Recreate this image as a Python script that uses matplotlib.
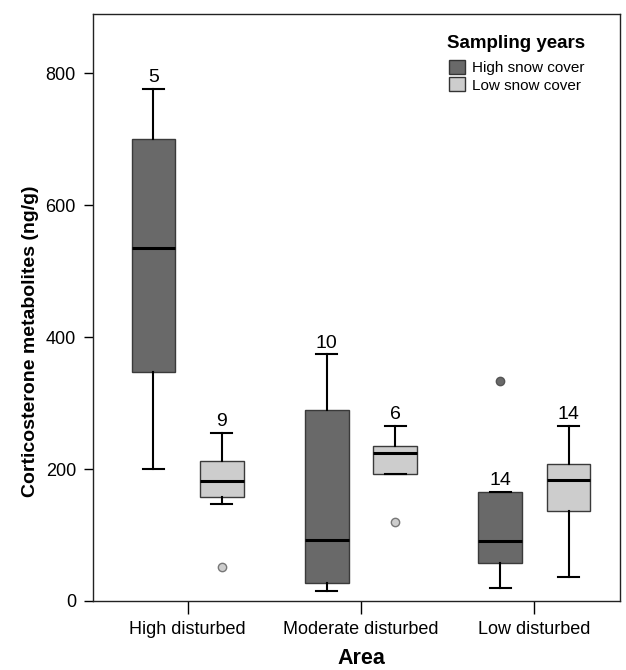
import matplotlib
matplotlib.use('Agg')

import matplotlib.pyplot as plt
from matplotlib.patches import Patch

plt.rcParams['font.family'] = ['Liberation Sans', 'DejaVu Sans']

areas = ["High disturbed", "Moderate disturbed", "Low disturbed"]
series = ["High snow cover", "Low snow cover"]
colors = ["#696969", "#cdcdcd"]

# box statistics, per area, one list per series
high_whislo = [200, 15, 19]
high_q1 = [347, 28, 57]
high_med = [535, 93, 91]
high_q3 = [700, 290, 165]
high_whishi = [777, 374, 166]
high_fliers = [[], [], [334]]
high_n = [5, 10, 14]

low_whislo = [147, 193, 37]
low_q1 = [157, 193, 136]
low_med = [182, 225, 184]
low_q3 = [213, 235, 208]
low_whishi = [255, 266, 266]
low_fliers = [[51], [120], []]
low_n = [9, 6, 14]


def make_stats(lo, q1, med, q3, hi, fl):
    out = []
    for i in range(len(lo)):
        out.append(dict(whislo=lo[i], q1=q1[i], med=med[i], q3=q3[i],
                        whishi=hi[i], fliers=fl[i]))
    return out


fig = plt.figure(figsize=(6.26, 6.7), dpi=100)
ax = fig.add_axes([0.149, 0.103, 0.841, 0.876])

offset = 0.197
width = 0.251
groups = [
    (make_stats(high_whislo, high_q1, high_med, high_q3, high_whishi, high_fliers), high_whishi, high_n, -offset, colors[0], "#555555"),
    (make_stats(low_whislo, low_q1, low_med, low_q3, low_whishi, low_fliers), low_whishi, low_n, offset, colors[1], "#777777"),
]

for stats, tops, ns, off, col, fedge in groups:
    pos = [i + off for i in range(len(areas))]
    ax.bxp(stats, positions=pos, widths=width, patch_artist=True,
           showfliers=True,
           boxprops=dict(facecolor=col, edgecolor="#3a3a3a", linewidth=1),
           medianprops=dict(color="black", linewidth=2.2),
           whiskerprops=dict(color="black", linewidth=1.5),
           capprops=dict(color="black", linewidth=1.5),
           capwidths=width * 0.48,
           flierprops=dict(marker="o", markerfacecolor=col, markeredgecolor=fedge,
                           markersize=6, markeredgewidth=1))
    for p, t, n in zip(pos, tops, ns):
        ax.annotate(str(n), (p, t), xytext=(0, 4.7), textcoords="offset points",
                    ha="center", va="baseline", fontsize=14)

ax.set_xlim(-0.544, 2.492)
ax.set_ylim(0, 890)
ax.set_xticks(range(len(areas)))
ax.set_xticklabels(areas)
ax.set_yticks([0, 200, 400, 600, 800])
ax.tick_params(axis="y", labelsize=13, length=6.5, width=1, pad=6)
ax.tick_params(axis="x", labelsize=13, length=9.4, width=1, pad=5)

for s in ax.spines.values():
    s.set_linewidth(1)
    s.set_color("#222222")

ax.set_xlabel("Area", fontsize=15.5, fontweight="bold", va="baseline")
ax.xaxis.set_label_coords(0.5086, -0.107)
ax.set_ylabel("Corticosterone metabolites (ng/g)", fontsize=14, fontweight="bold", va="center")
ax.yaxis.set_label_coords(-0.12, 0.442)

# legend: title as its own text, entries below it
fig.text(447 / 626, 1 - 47.5 / 670, "Sampling years", fontsize=13.5,
         fontweight="bold", ha="left", va="baseline")
handles = [Patch(facecolor=c, edgecolor="#333333", label=l) for c, l in zip(colors, series)]
leg = ax.legend(handles=handles, loc="upper left",
                bbox_to_anchor=(449 / 626, 1 - 60 / 670), bbox_transform=fig.transFigure,
                frameon=False, fontsize=11,
                handlelength=1.03, handleheight=1.03, handletextpad=0.45,
                labelspacing=0.15, borderpad=0, borderaxespad=0)

fig.savefig("out.png", dpi=100)
